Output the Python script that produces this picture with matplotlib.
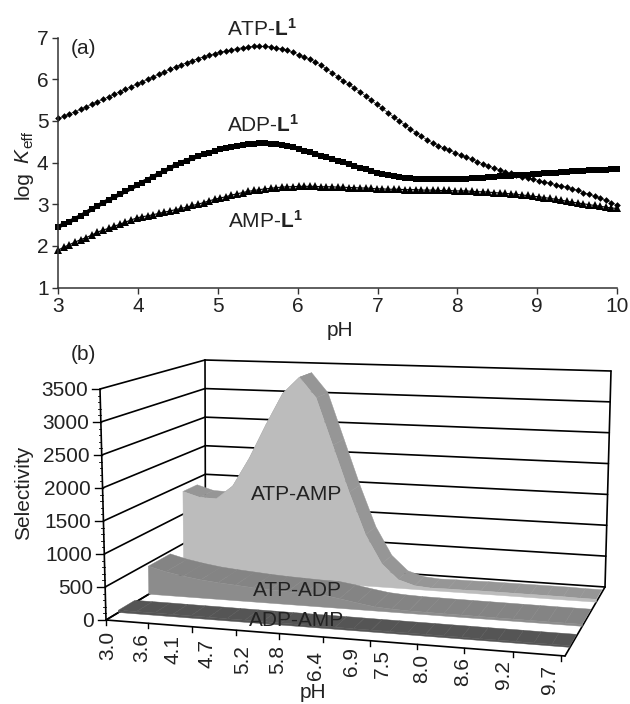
import numpy as np
import matplotlib
matplotlib.use("Agg")
import matplotlib.pyplot as plt
from matplotlib.patches import Polygon

plt.rcParams['font.family'] = ['Liberation Sans', 'DejaVu Sans']
plt.rcParams['mathtext.fontset'] = 'custom'
plt.rcParams['mathtext.rm'] = 'Liberation Sans'
plt.rcParams['mathtext.it'] = 'Liberation Sans:italic'
plt.rcParams['mathtext.bf'] = 'Liberation Sans:bold'

# ---- panel (a) data: log Keff read every 0.07 pH unit from pH 3 to 10
atp_l1 = [5.06,5.11,5.17,5.22,5.28,5.34,5.40,5.46,5.52,5.58,5.64,5.70,5.76,5.82,5.88,5.94,6.00,6.06,6.12,6.18,
          6.24,6.30,6.35,6.40,6.45,6.50,6.54,6.58,6.62,6.65,6.68,6.71,6.74,6.76,6.78,6.79,6.79,6.79,6.78,6.76,
          6.73,6.70,6.65,6.58,6.54,6.48,6.42,6.34,6.25,6.16,6.06,5.97,5.88,5.79,5.70,5.60,5.50,5.40,5.30,5.20,
          5.10,5.00,4.91,4.81,4.72,4.63,4.55,4.47,4.41,4.35,4.30,4.24,4.18,4.13,4.08,4.02,3.97,3.92,3.87,3.82,
          3.78,3.74,3.70,3.66,3.63,3.60,3.57,3.53,3.50,3.47,3.44,3.41,3.37,3.33,3.28,3.24,3.19,3.15,3.09,3.04,2.98]
adp_l1 = [2.46,2.52,2.58,2.65,2.72,2.80,2.88,2.96,3.03,3.10,3.17,3.24,3.31,3.38,3.45,3.52,3.59,3.66,3.73,3.80,
          3.87,3.94,4.00,4.05,4.10,4.15,4.20,4.24,4.28,4.32,4.35,4.38,4.41,4.43,4.44,4.45,4.46,4.46,4.45,4.44,
          4.42,4.40,4.37,4.33,4.29,4.25,4.21,4.17,4.13,4.09,4.05,4.01,3.96,3.92,3.88,3.84,3.80,3.76,3.73,3.70,
          3.67,3.65,3.63,3.62,3.61,3.60,3.60,3.60,3.60,3.60,3.60,3.60,3.61,3.61,3.62,3.63,3.64,3.65,3.66,3.67,
          3.68,3.69,3.70,3.71,3.71,3.72,3.73,3.74,3.75,3.76,3.77,3.78,3.79,3.80,3.81,3.82,3.82,3.83,3.83,3.84,3.84]
amp_l1 = [1.90,1.97,2.03,2.09,2.15,2.20,2.26,2.33,2.38,2.42,2.47,2.52,2.57,2.62,2.67,2.70,2.72,2.75,2.78,2.81,
          2.84,2.87,2.90,2.93,2.97,3.00,3.04,3.08,3.12,3.15,3.18,3.22,3.25,3.28,3.31,3.33,3.35,3.37,3.38,3.40,
          3.41,3.42,3.42,3.43,3.43,3.43,3.43,3.42,3.42,3.42,3.41,3.41,3.40,3.40,3.39,3.39,3.38,3.37,3.37,3.36,
          3.36,3.36,3.35,3.35,3.35,3.34,3.34,3.34,3.33,3.33,3.33,3.32,3.32,3.32,3.31,3.30,3.30,3.29,3.28,3.27,
          3.26,3.25,3.24,3.22,3.21,3.19,3.18,3.16,3.14,3.12,3.10,3.07,3.05,3.03,3.01,2.99,2.97,2.95,2.93,2.91,2.90]

# ---- panel (b) data: selectivity read every 0.28 pH unit from pH 3 to 10
sel_atp_amp = [1383,1300,1290,1520,2000,2570,3100,3380,3050,2280,1520,840,380,140,60,40,
               45,45,50,50,50,50,50,50,45,45]
sel_atp_adp = [450,380,330,290,265,245,225,210,200,190,188,150,105,65,48,40,38,36,35,34,33,32,31,30,30,30]
sel_adp_amp = [35,36,36,35,34,34,33,32,32,31,30,30,30,29,28,28,27,27,26,26,25,25,25,24,24,24]

ph_tick_labels = ['3.0','3.6','4.1','4.7','5.2','5.8','6.4','6.9','7.5','8.0','8.6','9.2','9.7']
sel_ticks = [0,500,1000,1500,2000,2500,3000,3500]

fig = plt.figure(figsize=(6.3,7.04), dpi=100)
W,H = 630,704
TC = '#222222'
FS = 15

# page-level pixel axes
pg = fig.add_axes([0,0,1,1])
pg.set_xlim(0,W); pg.set_ylim(H,0); pg.axis('off')

# panel (a)
L,R,T,B = 58.3,617,37.7,287.5
ax = fig.add_axes([L/W,1-B/H,(R-L)/W,(B-T)/H])
ax.set_xlim(3,10); ax.set_ylim(1,7)
ph = np.linspace(3,10,len(atp_l1))
ax.plot(ph,atp_l1,'-',color='k',lw=0.4,marker='D',ms=3.4,mew=0,clip_on=False)
ax.plot(ph,adp_l1,'-',color='k',lw=2.8,marker='s',ms=3.9,mew=0,clip_on=False)
ax.plot(ph,amp_l1,'-',color='k',lw=0.8,marker='^',ms=5.2,mew=0,clip_on=False)
for s in ['top','right']:
    ax.spines[s].set_visible(False)
for s in ['left','bottom']:
    ax.spines[s].set_color('#333333'); ax.spines[s].set_linewidth(1.1)
ax.set_xticks(range(3,11)); ax.set_yticks(range(1,8))
ax.tick_params(length=4.5,width=1.0,color='#333333',labelsize=FS,labelcolor=TC,pad=2.5)
ax.patch.set_alpha(0)

def txt(x,y,s,**k):
    k.setdefault('ha','center'); k.setdefault('va','center')
    k.setdefault('fontsize',FS); k.setdefault('color',TC)
    pg.text(x,y,s,**k)

txt(83,48,'(a)')
txt(262,29,r'ATP-$\mathbf{L}^{\mathbf{1}}$')
txt(263,125,r'ADP-$\mathbf{L}^{\mathbf{1}}$')
txt(265,221,r'AMP-$\mathbf{L}^{\mathbf{1}}$')
txt(23,185,'log',rotation=90)
txt(23,156,'K',rotation=90,style='italic')
txt(28,139,'eff',rotation=90,fontsize=11)
txt(340,330,'pH')
txt(83,354,'(b)')
txt(24,493,'Selectivity',rotation=90)
txt(313,693,'pH')

# panel (b): 3-D box mapped by its eight corners (x fraction, depth fraction, height fraction)
C = {(0,0,0):(106,620),(1,0,0):(565,656),(0,1,0):(205.5,560),(1,1,0):(605,587),
     (0,0,1):(100,389),(1,0,1):(568,409),(0,1,1):(205,360),(1,1,1):(611,371)}
def proj(f,d,v):
    z = np.asarray(v,float)/3500.0
    f = np.asarray(f,float); d = np.asarray(d,float)*np.ones_like(f)
    out = 0
    for (a,b,c),p in C.items():
        w = (f if a else 1-f)*(d if b else 1-d)*(z if c else 1-z)
        out = out + w[...,None]*np.array(p,float)
    return out

def line(f,d,v,lw=1.2,z=1):
    p = proj(np.array(f,float),np.array(d,float),np.array(v,float))
    pg.plot(p[...,0],p[...,1],color='k',lw=lw,zorder=z,solid_capstyle='round')

for t in sel_ticks:
    line([0,0],[0,1],[t,t])
    line([0,1],[1,1],[t,t])
line([0,0],[1,1],[0,3500])
line([1,1],[1,1],[0,3500])
line([0,0],[0,1],[0,0])
line([1,1],[0,1],[0,0])

def ribbon(vals,d0,d1,face,top,zb):
    vals = np.array(vals,float)
    f = np.linspace(0,1,len(vals))
    for i in range(len(f)-1):
        a = proj(f[i:i+2],d0,vals[i:i+2]); b = proj(f[i:i+2],d1,vals[i:i+2])
        pg.add_patch(Polygon([a[0],a[1],b[1],b[0]],closed=True,fc=top,ec=top,lw=0.3,zorder=zb))
    fr = proj(f,d0,vals); base = proj(f,d0,np.zeros_like(vals))
    pg.add_patch(Polygon(np.vstack([fr,base[::-1]]),closed=True,fc=face,ec=face,lw=0.3,zorder=zb+0.1))

ribbon(sel_atp_amp,0.78,0.92,'#bcbcbc','#969696',3)
ribbon(sel_atp_adp,0.43,0.65,'#8c8c8c','#848484',4)
ribbon(sel_adp_amp,0.125,0.29,'#555555','#555555',5)

# front edges and ticks on top of the floor
line([0,1],[0,0],[0,0],z=6)
line([0,0],[0,0],[0,3500],z=6)
for t in sel_ticks:
    p = proj(np.array(0.0),np.array(0.0),np.array(float(t)))
    pg.plot([p[0]-8,p[0]],[p[1],p[1]],color='k',lw=1.0,zorder=6)
    txt(p[0]-12,p[1]+1.5,str(t),ha='right')
for t in range(0,3500,100):
    p = proj(np.array(0.0),np.array(0.0),np.array(float(t)))
    pg.plot([p[0]-2.5,p[0]],[p[1],p[1]],color='k',lw=0.6,zorder=6)

tick_fracs = [0,.0915,.187,.283,.377,.473,.576,.678,.78,.887,.991]
for f0 in tick_fracs:
    p = proj(np.array(f0),np.array(0.0),np.array(0.0))
    pg.plot([p[0],p[0]],[p[1],p[1]+5],color='k',lw=1.0,zorder=6)
label_x = [108,142,173,207,243,278,315,352,382,422,463,503,550]
label_y = [645,648,650,653,660,660,665,662,664,668,672,675,680]
for s,x,y in zip(ph_tick_labels,label_x,label_y):
    txt(x,y,s,rotation=90)

txt(297,495,'ATP-AMP',zorder=8)
txt(297,590,'ATP-ADP',zorder=8)
txt(297,620,'ADP-AMP',zorder=8)

fig.savefig('out.png',dpi=100)
